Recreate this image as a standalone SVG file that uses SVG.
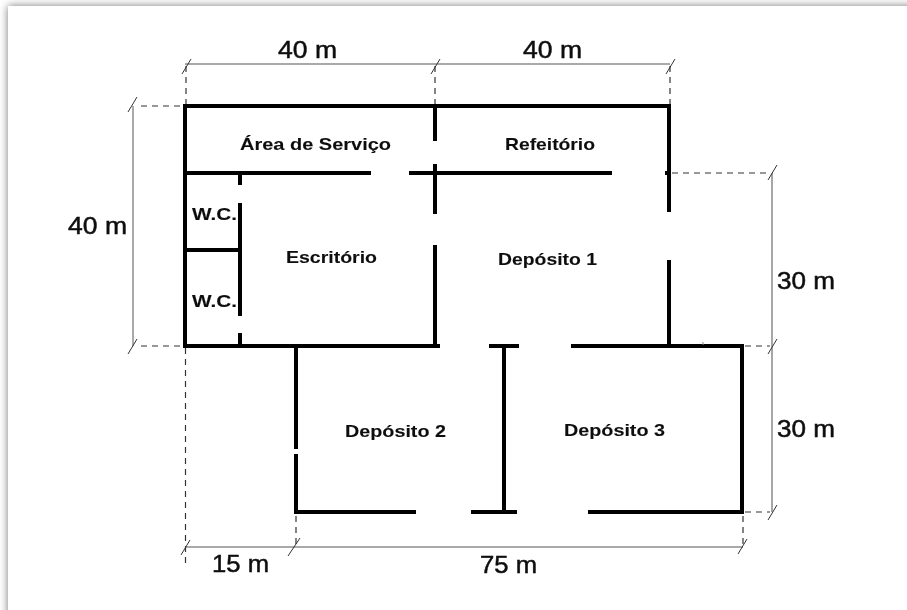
<svg xmlns="http://www.w3.org/2000/svg" width="907" height="610" viewBox="0 0 907 610">
<style>
.wall{stroke:#050505;stroke-width:4;fill:none}
.dim{stroke:#555;stroke-width:1;fill:none}
.dim2{stroke:#888;stroke-width:1.500;fill:none}
.dash{stroke:#333;stroke-width:1.200;stroke-dasharray:6 5;fill:none}
.tick{stroke:#333;stroke-width:1;fill:none}
text{font-family:"Liberation Sans",Arial,sans-serif;fill:#111}
.room{font-size:17px;font-weight:700;stroke:#111;stroke-width:.1}
.len{font-size:24px;stroke:#111;stroke-width:.5}
</style>
<defs>
<filter id="s" x="-5%" y="-5%" width="110%" height="110%"><feGaussianBlur stdDeviation="4"/></filter>
<filter id="soft" x="-5%" y="-5%" width="110%" height="110%"><feGaussianBlur stdDeviation="0.5"/></filter>
<path id="t" class="tick" d="M-4 8L5 -7"/>
</defs>
<rect width="907" height="610" fill="#fff"/>
<rect x="8" y="6" width="950" height="650" fill="#777" filter="url(#s)"/>
<rect x="8" y="6" width="899" height="604" fill="#fff"/>
<g id="connectors" filter="url(#soft)">
<path class="dim" d="M185 64H670M133 106V346M185 547H743"/>
<path class="dim2" d="M772 173V512"/>
<path class="dash" d="M186 66V106M435 66V106M670 66V106M141 106H185M141 346H185M672 173H770M745 346H770M745 512H770M185.500 348V565M296 516V545M743 516V545"/>
<use href="#t" x="186" y="66"/><use href="#t" x="435" y="66"/><use href="#t" x="670" y="66"/>
<use href="#t" x="132" y="104"/><use href="#t" x="132" y="346"/>
<use href="#t" x="772" y="172"/><use href="#t" x="772" y="346"/><use href="#t" x="772" y="512"/>
<use href="#t" x="185" y="547"/><path class="tick" d="M288 556L300 538"/><use href="#t" x="742" y="546"/>
</g>
<g id="plan" filter="url(#soft)">
<path class="wall" d="M669 212V106H185V346H440M435 106V141M435 164V214M435 245V346"/>
<path class="wall" d="M185 173H371M409 173H612M665 173H669M669 260V346M240 173V185M240 203V316M240 333V346M185 250H240"/>
<path class="wall" d="M296 346V449M296 454V512H416M489 346H519M504 346V512M471 512H517M571 346H742V512H588"/>
<path d="M703 345V342" stroke="#888" fill="none"/>
</g>
<g id="labels" filter="url(#soft)">
<g id="area-servico"><text class="room" x="240" y="150" textLength="151" lengthAdjust="spacingAndGlyphs">Área de Serviço</text></g>
<g id="refeitorio"><text class="room" x="505" y="150" textLength="90" lengthAdjust="spacingAndGlyphs">Refeitório</text></g>
<g id="wc-1"><text class="room" x="192" y="220" textLength="45" lengthAdjust="spacingAndGlyphs">W.C.</text></g>
<g id="wc-2"><text class="room" x="192" y="307" textLength="45" lengthAdjust="spacingAndGlyphs">W.C.</text></g>
<g id="escritorio"><text class="room" x="286" y="263" textLength="91" lengthAdjust="spacingAndGlyphs">Escritório</text></g>
<g id="deposito-1"><text class="room" x="498" y="265" textLength="99" lengthAdjust="spacingAndGlyphs">Depósito 1</text></g>
<g id="deposito-2"><text class="room" x="345" y="437" textLength="101" lengthAdjust="spacingAndGlyphs">Depósito 2</text></g>
<g id="deposito-3"><text class="room" x="564" y="436" textLength="101" lengthAdjust="spacingAndGlyphs">Depósito 3</text></g>
<text class="len" x="278" y="58" textLength="59" lengthAdjust="spacingAndGlyphs">40 m</text>
<text class="len" x="523" y="58" textLength="59" lengthAdjust="spacingAndGlyphs">40 m</text>
<text class="len" x="68" y="234" textLength="59" lengthAdjust="spacingAndGlyphs">40 m</text>
<text class="len" x="777" y="289" textLength="58" lengthAdjust="spacingAndGlyphs">30 m</text>
<text class="len" x="777" y="437" textLength="58" lengthAdjust="spacingAndGlyphs">30 m</text>
<text class="len" x="212" y="572" textLength="57" lengthAdjust="spacingAndGlyphs">15 m</text>
<text class="len" x="480" y="573" textLength="57" lengthAdjust="spacingAndGlyphs">75 m</text>
</g>
</svg>
